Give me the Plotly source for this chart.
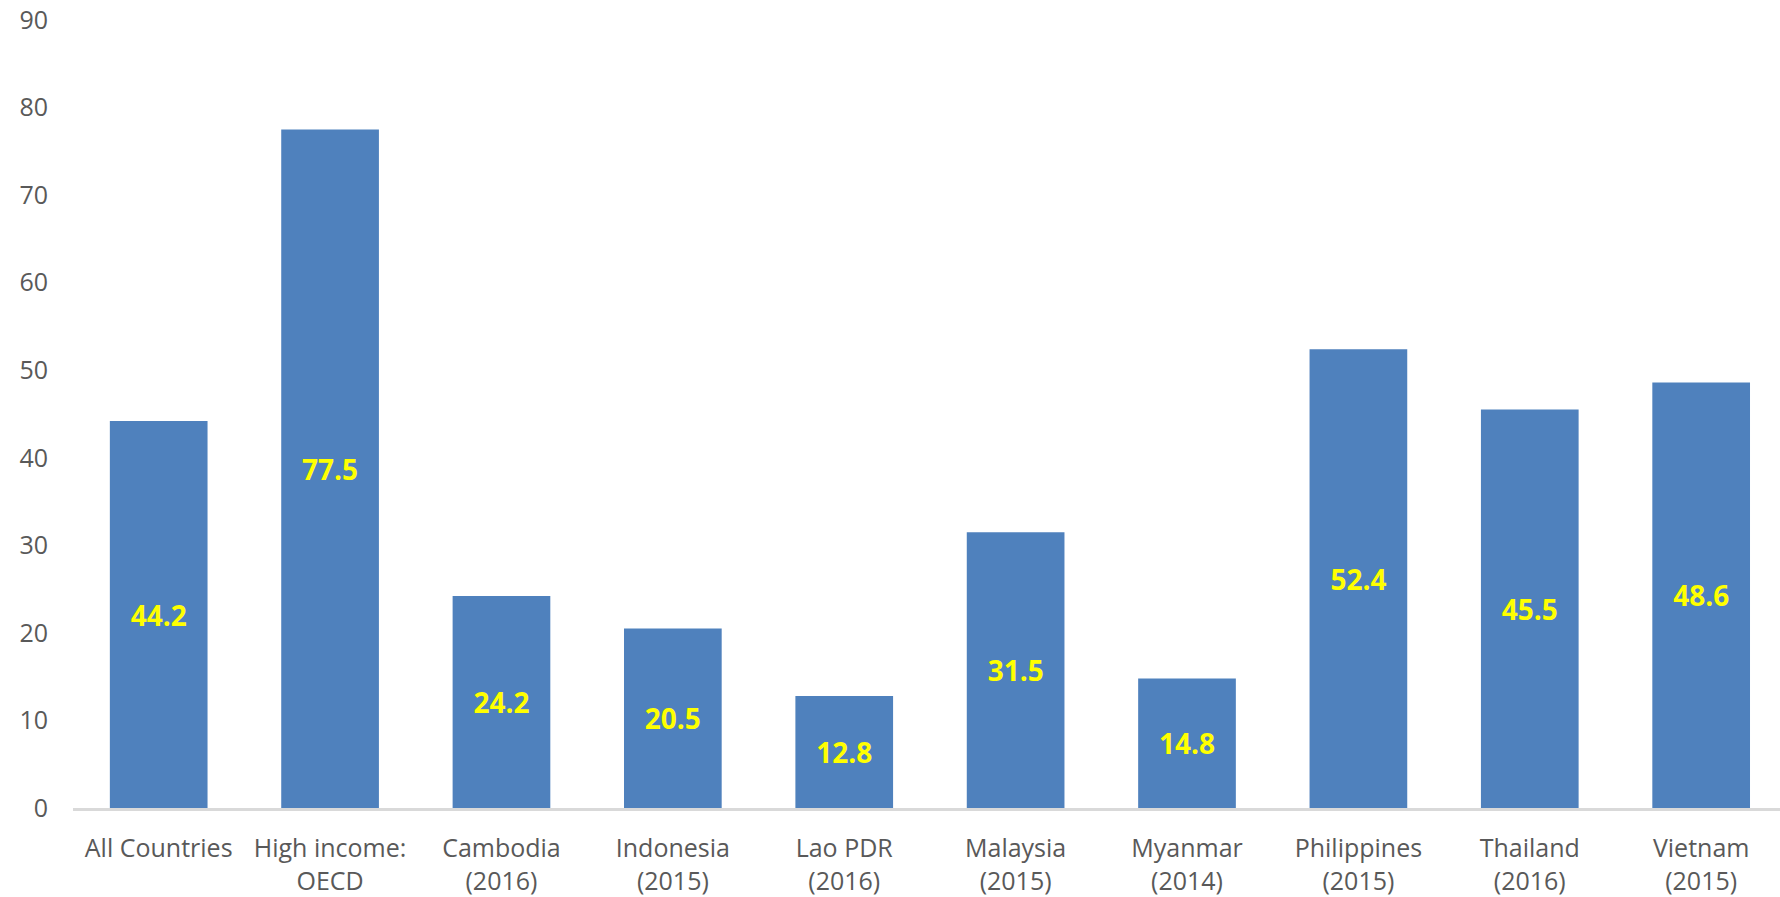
import plotly.graph_objects as go

categories = ["All Countries", "High income:<br>OECD", "Cambodia<br>(2016)", "Indonesia<br>(2015)",
              "Lao PDR<br>(2016)", "Malaysia<br>(2015)", "Myanmar<br>(2014)", "Philippines<br>(2015)",
              "Thailand<br>(2016)", "Vietnam<br>(2015)"]
values = [44.2, 77.5, 24.2, 20.5, 12.8, 31.5, 14.8, 52.4, 45.5, 48.6]
y_ticks = [0, 10, 20, 30, 40, 50, 60, 70, 80, 90]

fig = go.Figure(go.Bar(
    x=categories, y=values,
    marker=dict(color="#4F81BD", line=dict(width=0)),
    text=[f"{v:.1f}" for v in values],
    textposition="inside", insidetextanchor="middle", textangle=0,
    constraintext="none",
    textfont=dict(family="Open Sans", size=28, color="#FFFF00", weight="bold"),
    hoverinfo="skip",
))

fig.update_layout(
    width=1780, height=897,
    margin=dict(l=73, r=0, t=20, b=89),
    paper_bgcolor="white", plot_bgcolor="white",
    bargap=0.43, showlegend=False,
    font=dict(family="Open Sans", size=25, color="#595959"),
)
fig.update_xaxes(range=[-0.5, 9.46], showline=True, linecolor="#D9D9D9", linewidth=3, showgrid=False,
                 ticks="", ticklabelstandoff=16, tickfont=dict(size=25, color="#595959"))
fig.update_yaxes(range=[0, 90], tickvals=y_ticks, showgrid=False, zeroline=False,
                 showline=False, ticks="", ticklabelstandoff=24,
                 tickfont=dict(size=25, color="#595959"))

fig.write_html("out.html")
